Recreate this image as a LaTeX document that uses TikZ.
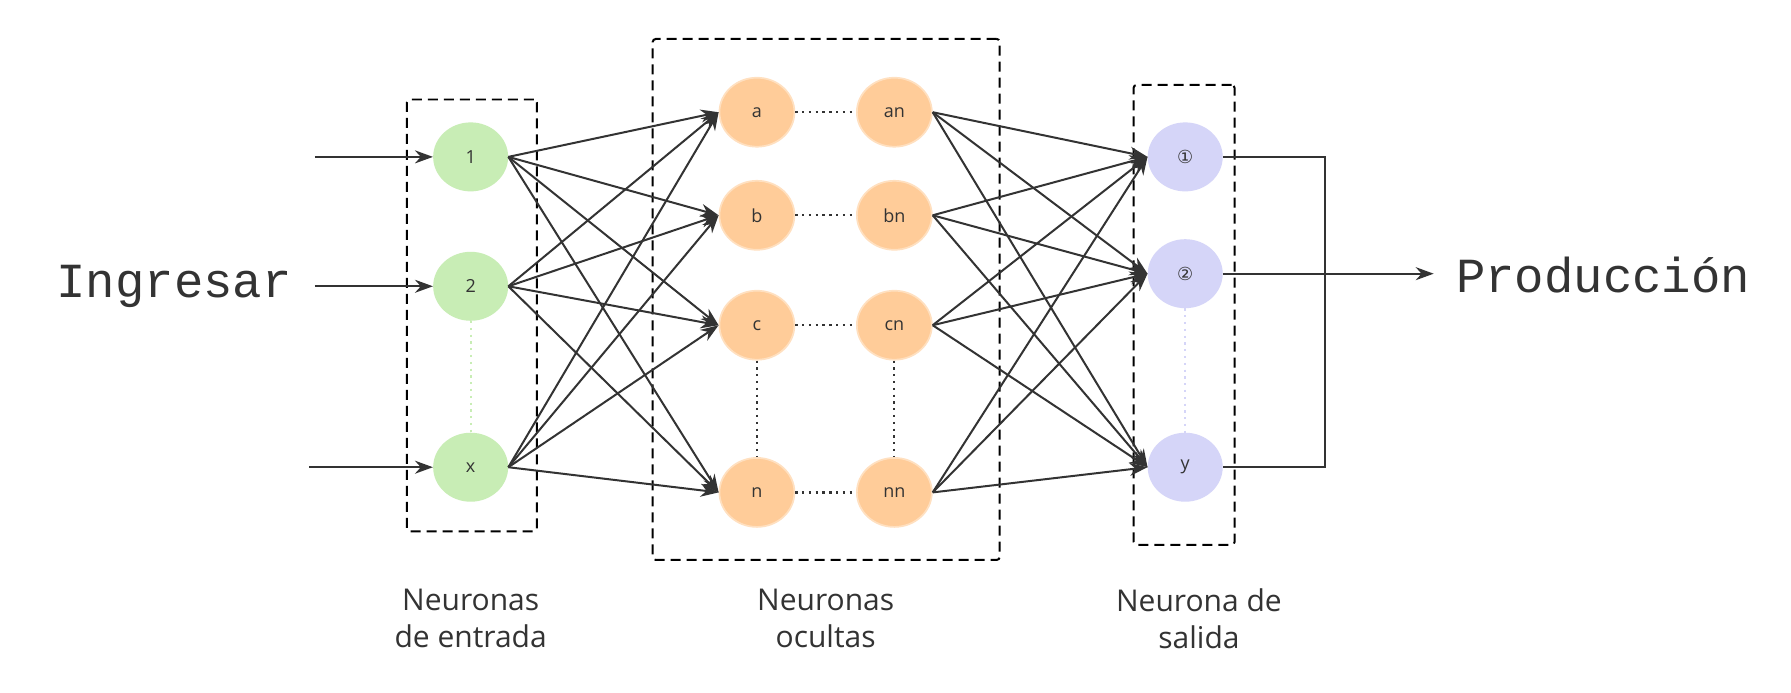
\documentclass[tikz,border=0pt]{standalone}
\usepackage{fontspec}
\setmainfont{Open Sans}
\newfontfamily\serifbig{Liberation Mono}
\newfontfamily\dvs{DejaVu Sans}
\usetikzlibrary{arrows.meta,shapes.geometric}
\definecolor{gfill}{HTML}{C8EDB5}
\definecolor{ofill}{HTML}{FFCC99}
\definecolor{oline}{HTML}{FFE0C0}
\definecolor{pfill}{HTML}{D5D5F8}
\definecolor{lc}{HTML}{333333}
\begin{document}
\begin{tikzpicture}[x=1.1452pt,y=-1.1452pt,
  neu/.style={ellipse,minimum width=75pt,minimum height=69pt,inner sep=0pt,font=\fontsize{18}{21}\selectfont,text=lc},
  gn/.style={neu,fill=gfill},
  on/.style={neu,fill=ofill,draw=oline,line width=1.7pt},
  pn/.style={neu,fill=pfill},
  con/.style={draw=lc,line width=2pt,-{Stealth[length=18pt,width=13pt]}},
  dbox/.style={draw=black,line width=2pt,dash pattern=on 10pt off 6pt,rounded corners=3pt},
  dot/.style={draw=lc,line width=2.2pt,dash pattern=on 2.3pt off 4.5pt},
  lab/.style={font=\fontsize{30}{37}\selectfont,text=lc,align=center}]
\useasboundingbox (0,0) rectangle (1564,605);
\fill[white] (0,0) rectangle (1564,605);
\node[dbox,minimum width=130pt,minimum height=432pt] (bi) at (412,275.5) {};
\node[dbox,minimum width=347pt,minimum height=521pt] (bh) at (721.5,261.5) {};
\node[dbox,minimum width=101pt,minimum height=460pt] (bo) at (1034,275) {};
\node[gn] (i1) at (411,137) {1};
\node[gn] (i2) at (411,250) {2};
\node[gn] (ix) at (411,408) {x};
\foreach \n/\y in {a/98,b/188,c/284,n/430}{
  \node[on] (\n) at (661,\y) {\n};
  \node[on] (\n n) at (781,\y) {\n n};
}
\node[pn] (o1) at (1035,137) {\dvs ①};
\node[pn] (o2) at (1035,239) {\dvs ②};
\node[pn] (oy) at (1035,408) {y};
\foreach \n in {a,b,c,n}{\draw[dot] (\n) -- (\n n);}
\draw[dot] (c) -- (n); \draw[dot] (cn) -- (nn);
\draw[line width=2pt,draw=gfill,dash pattern=on 2.3pt off 4.5pt] (i2) -- (ix);
\draw[line width=2pt,draw=pfill,dash pattern=on 2.3pt off 4.5pt] (o2) -- (oy);
\foreach \s in {i1,i2,ix}{\foreach \t in {a,b,c,n}{\draw[con] (\s.east) -- (\t.west);}}
\foreach \s in {an,bn,cn,nn}{\foreach \t in {o1,o2,oy}{\draw[con] (\s.east) -- (\t.west);}}
\coordinate (s1) at (275,137); \coordinate (s2) at (275,250); \coordinate (s3) at (270,408);
\draw[con] (s1) -- (i1); \draw[con] (s2) -- (i2); \draw[con] (s3) -- (ix);
\coordinate (j1) at (1157,137); \coordinate (j3) at (1157,408); \coordinate (e) at (1252,239);
\draw[lc,line width=2pt] (o1.east) -- (j1) -- (j3) -- (oy.east);
\draw[con] (o2.east) -- (e);
\node[font=\serifbig\fontsize{49}{56}\selectfont,text=lc] (tin) at (152,250) {Ingresar};
\node[font=\serifbig\fontsize{49}{56}\selectfont,text=lc] (tout) at (1400,240) {Producción};
\node[lab] (l1) at (411,540) {Neuronas\\de entrada};
\node[lab] (l2) at (721,540) {Neuronas\\ocultas};
\node[lab] (l3) at (1047,540) {Neurona de\\salida};
\end{tikzpicture}
\end{document}
